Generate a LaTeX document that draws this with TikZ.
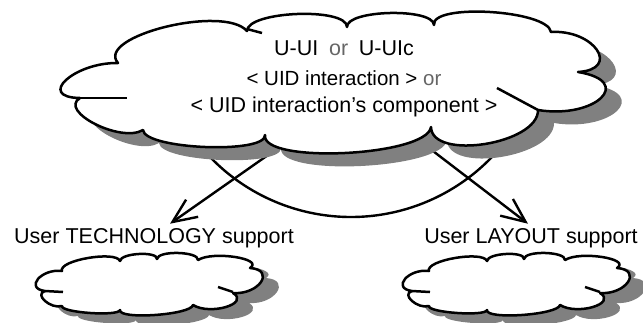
\documentclass[tikz,border=0pt]{standalone}
\usepackage{fontspec}
\setmainfont{Liberation Sans}
\usetikzlibrary{calc,arrows.meta}
\colorlet{shadowgray}{black!50}
\colorlet{orgray}{black!60}
\newcommand\bump[3]{.. controls ($0.3333*(#1)+1.3333*(#2)-0.6667*(#3)$) and ($0.3333*(#3)+1.3333*(#2)-0.6667*(#1)$) .. (#3)}
\newcommand\cloudUpath{(80,98) \bump{80,98}{66,80}{118,63} \bump{118,63}{165,27}{247,31}
  \bump{247,31}{297,14}{347,27} \bump{347,27}{390,13}{434,25} \bump{434,25}{490,12}{551,32}
  \bump{551,32}{597,50}{578,72} \bump{578,72}{601,98}{538,110} \bump{538,110}{485,144}{431,127}
  \bump{431,127}{345,153}{265,135} \bump{265,135}{205,147}{143,130} \bump{143,130}{95,124}{80,98} -- cycle}
\newcommand\cloudSpath{(45,291) \bump{45,291}{38,279}{62,271} \bump{62,271}{88,258}{120,261}
  \bump{120,261}{139,254}{157,259} \bump{157,259}{178,253}{198,260} \bump{198,260}{235,257}{250,268}
  \bump{250,268}{261,282}{233,293} \bump{233,293}{226,307}{193,305} \bump{193,305}{155,315}{120,310}
  \bump{120,310}{90,313}{62,306} \bump{62,306}{45,301}{45,291} -- cycle}
\begin{document}
\begin{tikzpicture}[x=1pt, y=-1pt, line width=2.4pt,
  cloudline/.style={draw, fill=white, line width=2.5pt, line join=round},
  lbl/.style={font=\fontsize{21.5}{27}\selectfont, text=black},
  arr/.style={-{Straight Barb[length=24pt,width=21pt]}}]
\useasboundingbox (0,0) rectangle (643,322);
\node[lbl] (techtxt) at (154,238) {User TECHNOLOGY support};
\node[lbl] (layouttxt) at (531,238) {User LAYOUT support};
\coordinate (techfrom) at (278,148);
\coordinate (layoutfrom) at (429,148);
\coordinate (arcC) at (351,21.5);
\draw[arr] (techfrom) -- ([xshift=16pt]techtxt.north);
\draw[arr] (layoutfrom) -- ([xshift=-3pt]layouttxt.north);
\draw[] (arcC) ++(137:195.5) arc[start angle=137, end angle=43, radius=195.5];
\fill[shadowgray, shift={(16,13)}] \cloudUpath;
\draw[cloudline] \cloudUpath;
\draw[line width=2.5pt] (80,98) -- (127,98);
\draw[line width=2.5pt] (538,110) -- (497,88);
\draw[line width=2.5pt] (247,29) -- (262,33);
\node[lbl, align=center] (uitxt) at (344,79)
  {U-UI\enspace{\color{orgray}or}\enspace U-UIc\\[3pt]
   {\fontsize{20.5}{27}\selectfont < UID interaction > {\color{orgray}or}}\\
   < UID interaction’s component >};
\foreach \dx in {0,367}{
  \fill[shadowgray, shift={(\dx+16,10)}] \cloudSpath;
  \draw[cloudline, shift={(\dx,0)}] \cloudSpath;
  \draw[line width=2.5pt, shift={(\dx,0)}] (45,291) -- (63,292);
  \draw[line width=2.5pt, shift={(\dx,0)}] (233,292) -- (218,287);
}
\end{tikzpicture}
\end{document}
